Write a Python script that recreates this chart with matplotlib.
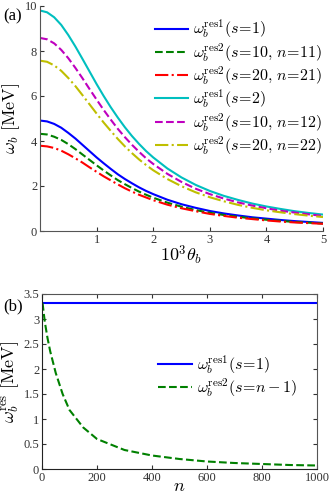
import numpy as np
import matplotlib
matplotlib.use("Agg")
import matplotlib.pyplot as plt

plt.rcParams['font.family'] = ['Liberation Serif', 'DejaVu Serif']
plt.rcParams['mathtext.fontset'] = 'cm'

# ---- panel (a) data ----
theta = [0.0, 0.125, 0.25, 0.375, 0.5, 0.625, 0.75, 0.875, 1.0, 1.125, 1.25,
         1.375, 1.5, 1.625, 1.75, 1.875, 2.0, 2.25, 2.5,
         2.75, 3.0, 3.25, 3.5, 3.75, 4.0, 4.25, 4.5, 4.75, 5.0]
res1_s1 = [4.91, 4.87, 4.76, 4.59, 4.36, 4.11, 3.83, 3.55, 3.27, 3.01, 2.76,
           2.52, 2.31, 2.12, 1.94, 1.78, 1.64, 1.39, 1.19,
           1.03, 0.89, 0.78, 0.69, 0.61, 0.55, 0.49, 0.44, 0.40, 0.36]
res2_s10_n11 = [4.32, 4.29, 4.19, 4.05, 3.86, 3.64, 3.40, 3.16, 2.92, 2.69, 2.47,
                2.26, 2.08, 1.91, 1.75, 1.61, 1.48, 1.26, 1.08,
                0.93, 0.81, 0.71, 0.63, 0.56, 0.50, 0.45, 0.40, 0.37, 0.33]
res2_s20_n21 = [3.79, 3.76, 3.69, 3.57, 3.41, 3.23, 3.04, 2.83, 2.63, 2.43, 2.25,
                2.07, 1.90, 1.75, 1.61, 1.49, 1.37, 1.17, 1.01,
                0.88, 0.76, 0.67, 0.59, 0.53, 0.47, 0.42, 0.38, 0.35, 0.32]
res1_s2 = [9.80, 9.72, 9.50, 9.16, 8.71, 8.20, 7.65, 7.09, 6.53, 6.00, 5.50,
           5.04, 4.61, 4.22, 3.87, 3.55, 3.27, 2.78, 2.38,
           2.05, 1.78, 1.56, 1.38, 1.22, 1.09, 0.98, 0.88, 0.80, 0.73]
res2_s10_n12 = [8.58, 8.52, 8.34, 8.05, 7.68, 7.25, 6.79, 6.31, 5.84, 5.38, 4.95,
                4.54, 4.17, 3.83, 3.52, 3.23, 2.98, 2.54, 2.18,
                1.88, 1.64, 1.44, 1.27, 1.13, 1.01, 0.90, 0.82, 0.74, 0.67]
res2_s20_n22 = [7.57, 7.52, 7.36, 7.12, 6.80, 6.44, 6.04, 5.63, 5.22, 4.82, 4.45,
                4.09, 3.76, 3.46, 3.18, 2.93, 2.70, 2.31, 1.99,
                1.72, 1.50, 1.32, 1.16, 1.03, 0.92, 0.83, 0.75, 0.68, 0.62]
labels_a = [r'$\omega_b^{\mathrm{res1}}(s\!=\!1)$',
            r'$\omega_b^{\mathrm{res2}}(s\!=\!10,\,n\!=\!11)$',
            r'$\omega_b^{\mathrm{res2}}(s\!=\!20,\,n\!=\!21)$',
            r'$\omega_b^{\mathrm{res1}}(s\!=\!2)$',
            r'$\omega_b^{\mathrm{res2}}(s\!=\!10,\,n\!=\!12)$',
            r'$\omega_b^{\mathrm{res2}}(s\!=\!20,\,n\!=\!22)$']

# ---- panel (b) data ----
n_vals = [2, 10, 20, 30, 50, 75, 100, 150, 200, 300, 400, 500, 600, 700, 800, 900, 1000]
res1_const = [3.32] * len(n_vals)
res2_nm1 = [3.32, 2.95, 2.62, 2.35, 1.92, 1.50, 1.18, 0.83, 0.60, 0.38, 0.27,
            0.20, 0.15, 0.12, 0.10, 0.08, 0.07]
labels_b = [r'$\omega_b^{\mathrm{res1}}(s\!=\!1)$',
            r'$\omega_b^{\mathrm{res2}}(s\!=\!n-1)$']

W, H = 332, 495
fig = plt.figure(figsize=(W / 100, H / 100), dpi=100)

def rect(l, t, r, b):
    return [l / W, 1 - b / H, (r - l) / W, (b - t) / H]

# ---------- (a) ----------
ax1 = fig.add_axes(rect(40, 6, 323, 231))
series = [(res1_s1, '-', 'b'), (res2_s10_n11, '--', 'g'), (res2_s20_n21, '-.', 'r'),
          (res1_s2, '-', 'c'), (res2_s10_n12, '--', 'm'), (res2_s20_n22, '-.', 'y')]
for (vals, ls, col), lab in zip(series, labels_a):
    ax1.plot(theta, vals, ls, color=col, lw=1.5, label=lab)
ax1.set_xlim(0, 5)
ax1.set_ylim(0, 10)
ax1.set_xticks([1, 2, 3, 4, 5])
ax1.set_yticks([0, 2, 4, 6, 8, 10])
ax1.spines['top'].set_visible(False)
ax1.spines['right'].set_visible(False)
for s in ['left', 'bottom']:
    ax1.spines[s].set_color('#555555')
ax1.tick_params(direction='in', length=3, labelsize=9, colors='#333333', pad=2)
ax1.set_xlabel(r'$10^3\theta_b$', fontsize=13, labelpad=-2)
ax1.set_ylabel(r'$\omega_b\ [\mathrm{MeV}]$', fontsize=13, labelpad=2)
ax1.legend(loc='upper right', bbox_to_anchor=(1.02, 0.975), frameon=False, fontsize=11.5,
           handlelength=2.1, handletextpad=0.3, labelspacing=0.05, borderaxespad=0.0)
fig.text(3 / W, 1 - 20 / H, '(a)', fontsize=12)

# ---------- (b) ----------
ax2 = fig.add_axes(rect(42, 294, 317, 469))
ax2.plot(n_vals, res1_const, '-', color='b', lw=1.5, label=labels_b[0])
ax2.plot(n_vals, res2_nm1, '--', color='g', lw=1.5, label=labels_b[1])
ax2.set_xlim(0, 1000)
ax2.set_ylim(0, 3.5)
ax2.set_xticks([0, 200, 400, 600, 800, 1000])
ax2.set_yticks([0, 0.5, 1, 1.5, 2, 2.5, 3, 3.5])
ax2.set_yticklabels(['0', '0.5', '1', '1.5', '2', '2.5', '3', '3.5'])
for s in ax2.spines.values():
    s.set_color('#555555')
ax2.spines['left'].set_color('#222222')
ax2.spines['bottom'].set_color('#222222')
ax2.tick_params(direction='in', length=3, labelsize=9, colors='#333333', pad=2,
                top=True, right=True)
ax2.set_xlabel(r'$n$', fontsize=13, labelpad=-4)
ax2.set_ylabel(r'$\omega_b^{\mathrm{res}}\ [\mathrm{MeV}]$', fontsize=13, labelpad=2)
ax2.legend(loc='center left', bbox_to_anchor=(0.4, 0.53), frameon=False, fontsize=11.5,
           handlelength=2.1, handletextpad=0.3, labelspacing=0.05, borderaxespad=0.0)
fig.text(3 / W, 1 - 310 / H, '(b)', fontsize=12)

fig.savefig('out.png', dpi=100)
